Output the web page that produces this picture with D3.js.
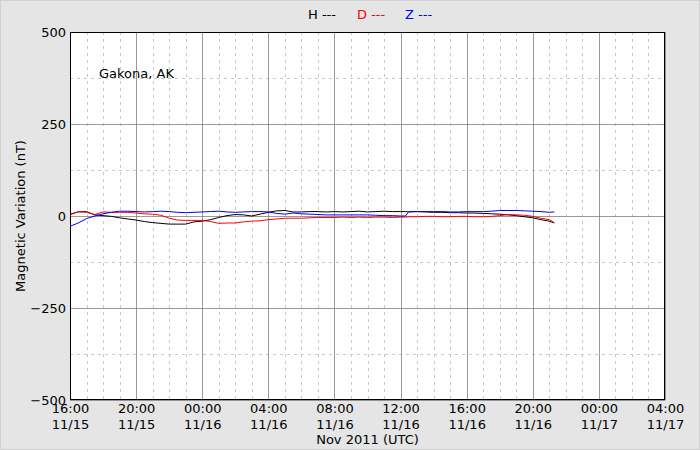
<!DOCTYPE html>
<html><head><meta charset="utf-8">
<script src="https://cdn.jsdelivr.net/npm/d3@7"></script>
<style>
html,body{margin:0;padding:0;background:#e5e5e5;}
text{font-family:"DejaVu Sans",sans-serif;}
</style></head>
<body>
<svg id="chart" width="700" height="450"></svg>
<script>
// hours since 2011-11-15 16:00 UTC
const hours = [0,0.5,1,1.5,2,2.5,3,3.5,4,4.5,5,5.5,6,6.5,7,7.5,8,8.5,9,9.5,10,10.5,11,11.5,12,12.5,13,13.5,14,14.5,15,15.5,16,16.5,17,17.5,18,18.5,19,19.5,20,20.3,20.5,21,21.5,22,22.5,23,23.5,24,24.5,25,25.5,26,26.5,27,27.5,28,28.5,29,29.3];
const seriesH = [5,11,12,3,1,-1,-5,-8,-11,-15,-18,-20,-22,-22,-22,-16,-14,-10,-4,1,4,3,0,5,10,14,15,11,11,12,12,11,12,11,12,13,11,12,13,12,12,12,11,12,11,10,10,9,9,8,8,7,6,5,3,1,-2,-5,-10,-14,-19];
const seriesD = [3,12,10,4,11,10,10,10,8,6,5,2,-6,-11,-12,-12,-12,-15,-20,-19,-19,-16,-14,-13,-10,-8,-6,-6,-6,-5,-4,-4,-4,-3,-4,-3,-4,-3,-3,-4,-3,-3,-2,-2,-1,-1,-2,-2,-1,-1,-2,-2,-1,1,4,3,2,-1,-6,-10,-18];
const seriesZ = [-28,-19,-7,0,6,10,13,13,12,11,12,13,12,10,9,10,11,12,13,11,10,11,12,12,11,7,5,8,6,5,4,3,3,3,3,3,3,2,1,1,0,0,12,12,12,12,12,11,11,12,12,12,13,15,15,15,14,13,12,10,11];
const yTicks = [500,250,0,-250,-500];
const yMinor = [375,125,-125,-375];
const legendItems = [{name:"H",color:"#000000"},{name:"D",color:"#ff0000"},{name:"Z",color:"#0000ff"}];
const stationName = "Gakona, AK";
const xLabel = "Nov 2011 (UTC)";
const yLabel = "Magnetic Variation (nT)";

const start = new Date(Date.UTC(2011,10,15,16,0));
const end = new Date(Date.UTC(2011,10,17,4,0));
const toDate = h => new Date(start.getTime()+h*3600000);

const svg = d3.select("#chart");
const m = {l:70,r:35,t:32,b:50};
const W=700,H=450;
const x = d3.scaleUtc().domain([start,end]).range([m.l,W-m.r]);
const y = d3.scaleLinear().domain([-500,500]).range([H-m.b,m.t]);

svg.append("rect").attr("x",0.5).attr("y",0.5).attr("width",W-1).attr("height",H-1)
  .attr("fill","#e5e5e5").attr("stroke","#d0d0d0");
svg.append("rect").attr("x",m.l).attr("y",m.t).attr("width",W-m.l-m.r).attr("height",H-m.t-m.b).attr("fill","#fff");

const g = svg.append("g");
// minor vertical (hourly)
const hourTicks = d3.utcHour.every(1).range(start,end);
const majorTicks = d3.utcHour.every(4).range(start,d3.utcHour.offset(end,1));
g.selectAll(".vmin").data(hourTicks.filter(d=>d.getUTCHours()%4!==0)).join("line")
  .attr("x1",d=>Math.round(x(d))+0.5).attr("x2",d=>Math.round(x(d))+0.5)
  .attr("y1",m.t).attr("y2",H-m.b).attr("stroke","#c8c8c8").attr("stroke-dasharray","3,4").attr("stroke-width",1);
g.selectAll(".hmin").data(yMinor).join("line")
  .attr("x1",m.l).attr("x2",W-m.r).attr("y1",d=>Math.round(y(d))+0.5).attr("y2",d=>Math.round(y(d))+0.5)
  .attr("stroke","#c8c8c8").attr("stroke-dasharray","3,4");
g.selectAll(".vmaj").data(majorTicks).join("line")
  .attr("x1",d=>Math.round(x(d))+0.5).attr("x2",d=>Math.round(x(d))+0.5)
  .attr("y1",m.t).attr("y2",H-m.b).attr("stroke","#808080").attr("stroke-width",0.8);
g.selectAll(".hmaj").data(yTicks).join("line")
  .attr("x1",m.l).attr("x2",W-m.r).attr("y1",d=>Math.round(y(d))+0.5).attr("y2",d=>Math.round(y(d))+0.5)
  .attr("stroke","#808080").attr("stroke-width",0.8);

// lines
const line = d3.line().x((d,i)=>x(toDate(hours[i]))).y(d=>y(d));
[[seriesH,"#000000"],[seriesD,"#ff0000"],[seriesZ,"#0000ff"]].forEach(([s,c])=>{
  svg.append("path").datum(s).attr("d",line).attr("fill","none").attr("stroke",c).attr("stroke-width",1);
});

// frame
svg.append("rect").attr("x",m.l+0.5).attr("y",m.t+0.5).attr("width",W-m.l-m.r-1).attr("height",H-m.t-m.b-1)
  .attr("fill","none").attr("stroke","#000").attr("stroke-width",1);

// axes
const fmtT = d3.utcFormat("%H:%M"), fmtD = d3.utcFormat("%m/%d");
const xAxis = svg.append("g").attr("transform",`translate(0,${H-m.b})`)
  .call(d3.axisBottom(x).tickValues(majorTicks).tickSize(0).tickFormat(""));
xAxis.select(".domain").remove();
xAxis.selectAll(".tick").each(function(d){
  const t = d3.select(this);
  t.append("text").attr("y",13).attr("fill","#000").attr("text-anchor","middle").attr("font-size",13).text(fmtT(d));
  t.append("text").attr("y",29).attr("fill","#000").attr("text-anchor","middle").attr("font-size",13).text(fmtD(d));
});
const yAxis = svg.append("g").attr("transform",`translate(${m.l},0)`)
  .call(d3.axisLeft(y).tickValues(yTicks).tickSize(0).tickPadding(4).tickFormat(d=>d<0?"\u2212"+Math.abs(d):String(d)));
yAxis.select(".domain").remove();
yAxis.selectAll("text").attr("font-size",13).attr("fill","#000").attr("font-family","DejaVu Sans");

svg.append("text").attr("x",(m.l+W-m.r)/2).attr("y",444).attr("text-anchor","middle").attr("font-size",13).text(xLabel);
svg.append("text").attr("transform",`translate(25,${(m.t+H-m.b)/2}) rotate(-90)`).attr("text-anchor","middle").attr("font-size",13).text(yLabel);
svg.append("text").attr("x",99).attr("y",78).attr("font-size",13).text(stationName);

// legend
const lx = [308,357,405];
legendItems.forEach((it,i)=>{
  svg.append("text").attr("x",lx[i]).attr("y",19).attr("font-size",13).attr("fill",it.color).text(it.name+" ---");
});
</script>
</body></html>
